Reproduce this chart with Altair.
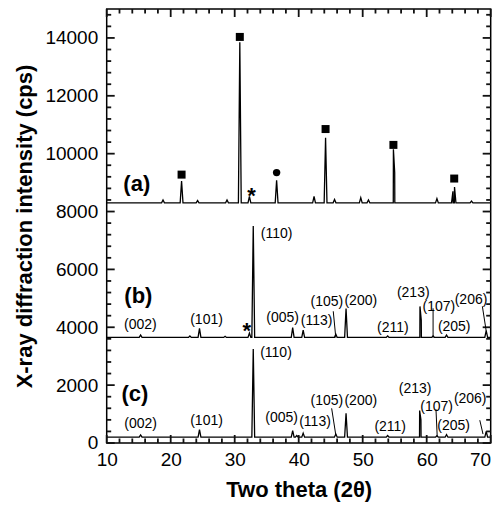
import altair as alt
import pandas as pd

# ---------------- data ----------------
base_a = 8300
peak_a_x = [18.8, 21.7, 24.2, 28.8, 30.8, 32.3, 36.55, 42.4, 44.2, 45.6, 49.7, 50.9, 54.8, 55.0, 61.6, 64.1, 64.35, 67.0]
peak_a_y = [8400, 9050, 8380, 8400, 13850, 8520, 9080, 8520, 10550, 8420, 8480, 8400, 10150, 9350, 8450, 8700, 8850, 8360]

base_b = 3650
peak_b_x = [15.3, 23.0, 24.5, 28.5, 32.3, 32.9, 39.06, 40.7, 45.8, 47.4, 53.9, 58.95, 59.15, 61.0, 63.1, 69.3]
peak_b_y = [3730, 3700, 3960, 3690, 3800, 7500, 3990, 3900, 3760, 4650, 3700, 4720, 4250, 3700, 3730, 3880]

base_c = 200
peak_c_x = [15.3, 24.5, 32.9, 39.06, 39.7, 40.7, 45.8, 47.4, 53.9, 58.9, 59.1, 61.6, 63.1, 69.3]
peak_c_y = [280, 460, 3250, 430, 260, 340, 310, 1030, 260, 1120, 800, 250, 290, 400]

# phase markers on pattern (a)
square_x = [21.7, 30.8, 44.2, 54.8, 64.3]
square_y = [9276, 14035, 10851, 10303, 9140]
circle_x = [36.55]
circle_y = [9345]
star_x = [32.65, 31.9]
star_y = [8729, 4070]

# Miller-index labels
hkl = ["(002)", "(101)", "(110)", "(005)", "(113)", "(105)", "(200)", "(211)", "(213)", "(107)", "(205)", "(206)"]
lab_b_x = [15.27, 25.6, 36.55, 37.5, 42.8, 44.4, 49.7, 54.7, 57.9, 61.9, 64.3, 66.93]
lab_b_y = [4073, 4245, 7233, 4313, 4210, 4860, 4895, 3980, 5200, 4690, 4000, 4930]
lab_c_x = [15.3, 25.6, 36.45, 37.34, 42.55, 44.4, 49.7, 54.3, 58.2, 61.55, 64.2, 66.8]
lab_c_y = [650, 763, 3125, 880, 730, 1438, 1438, 536, 1870, 1243, 580, 1506]

# leader lines (x, y) -> (x2, y2)
lead_x = [45.4, 61.0, 68.7, 45.15, 61.45, 68.3]
lead_y = [4553, 4655, 4724, 1198, 1164, 787]
lead_x2 = [45.8, 61.0, 69.3, 45.8, 61.65, 68.8]
lead_y2 = [3640, 3640, 3870, 274, 205, 308]

panel_names = ["(a)", "(b)", "(c)"]
panel_x = [14.7, 14.95, 14.4]
panel_y = [8945, 5065, 1677]

x_major = [10, 20, 30, 40, 50, 60, 70]
y_major = [0, 2000, 4000, 6000, 8000, 10000, 12000, 14000]

# ---------------- build tables ----------------
HW = 0.22
W, H = 384, 434
X0, X1, Y0, Y1 = 10, 70, 0, 15000
MAJ, MIN = 8, 4.5  # tick lengths in pixels


def pattern(name, base, px, py):
    pts = [(10.0, base), (70.0, base)]
    for x, y in zip(px, py):
        pts += [(x - HW, base), (x, y), (x + HW, base)]
    pts.sort(key=lambda p: p[0])
    return pd.DataFrame({"x": [p[0] for p in pts], "y": [p[1] for p in pts], "s": name})


lines = pd.concat([
    pattern("a", base_a, peak_a_x, peak_a_y),
    pattern("b", base_b, peak_b_x, peak_b_y),
    pattern("c", base_c, peak_c_x, peak_c_y),
], ignore_index=True)

labels = pd.DataFrame({"x": lab_b_x + lab_c_x, "y": lab_b_y + lab_c_y, "t": hkl + hkl})
panels = pd.DataFrame({"x": panel_x, "y": panel_y, "t": panel_names})
squares = pd.DataFrame({"x": square_x, "y": square_y})
circles = pd.DataFrame({"x": circle_x, "y": circle_y})
stars = pd.DataFrame({"x": star_x, "y": star_y, "t": ["*", "*"]})
leads = pd.DataFrame({"x": lead_x, "y": lead_y, "x2": lead_x2, "y2": lead_y2})

# inward frame ticks expressed as segments in data units
xt_minor = [v for v in range(10, 71, 2) if v % 10]
yt_minor = [v for v in range(0, 15001, 400) if v % 2000]
dy_maj = (Y1 - Y0) * MAJ / H
dy_min = (Y1 - Y0) * MIN / H
dx_maj = (X1 - X0) * MAJ / W
dx_min = (X1 - X0) * MIN / W
seg = []
for v in x_major:
    seg += [(v, Y0, v, Y0 + dy_maj), (v, Y1, v, Y1 - dy_maj)]
for v in xt_minor:
    seg += [(v, Y0, v, Y0 + dy_min), (v, Y1, v, Y1 - dy_min)]
for v in y_major:
    seg += [(X0, v, X0 + dx_maj, v), (X1, v, X1 - dx_maj, v)]
for v in yt_minor:
    seg += [(X0, v, X0 + dx_min, v), (X1, v, X1 - dx_min, v)]
ticks_df = pd.DataFrame(seg, columns=["x", "y", "x2", "y2"])

FONT = "Liberation Sans"

xs = alt.Scale(domain=[X0, X1], nice=False, zero=False)
ys = alt.Scale(domain=[Y0, Y1], nice=False)
XT = "Two theta (2θ)"
YT = "X-ray diffraction intensity (cps)"
common = dict(ticks=False, domain=False, grid=False, format="d", labelFlush=False,
              labelOverlap=False,
              labelFont=FONT, labelFontSize=19, labelColor="black",
              titleFont=FONT, titleFontSize=22, titleFontWeight="bold", titleColor="black")
xax = alt.Axis(values=x_major, labelPadding=8, titlePadding=10,
               labelAlign=alt.expr("datum.value == 70 ? 'right' : 'center'"),
               **common)
yax = alt.Axis(values=y_major, labelPadding=9, titlePadding=8, **common)

X = alt.X("x:Q", scale=xs, title=XT, axis=xax)
Y = alt.Y("y:Q", scale=ys, title=YT, axis=yax)

curve = alt.Chart(lines).mark_line(color="black", strokeWidth=1.3).encode(
    x=X, y=Y, detail="s:N", order="x:Q")

tk = alt.Chart(ticks_df).mark_rule(color="#111111", strokeWidth=1.8).encode(x=X, y=Y, x2="x2:Q", y2="y2:Q")

lab = alt.Chart(labels).mark_text(font=FONT, fontSize=14, color="black", baseline="middle").encode(
    x=X, y=Y, text="t:N")
pan = alt.Chart(panels).mark_text(font=FONT, fontSize=22, fontWeight="bold", color="black", baseline="middle").encode(
    x=X, y=Y, text="t:N")
sq = alt.Chart(squares).mark_point(shape="square", filled=True, size=64, color="black", opacity=1).encode(x=X, y=Y)
ci = alt.Chart(circles).mark_point(shape="circle", filled=True, size=55, color="black", opacity=1).encode(x=X, y=Y)
st = alt.Chart(stars).mark_text(font=FONT, fontSize=22, fontWeight="bold", color="black", baseline="middle", dy=6).encode(
    x=X, y=Y, text="t:N")
ld = alt.Chart(leads).mark_rule(color="black", strokeWidth=1).encode(x=X, y=Y, x2="x2:Q", y2="y2:Q")

chart = alt.layer(curve, tk, ld, lab, pan, sq, ci, st).properties(
    width=W, height=H,
    background="white",
    padding={"left": 98.7, "top": 1, "right": 5, "bottom": 60},
    autosize=alt.AutoSizeParams(type="none"),
).configure_view(stroke="black", strokeWidth=1.5)

chart.save("out.html", embed_options={"renderer": "svg", "actions": False})
